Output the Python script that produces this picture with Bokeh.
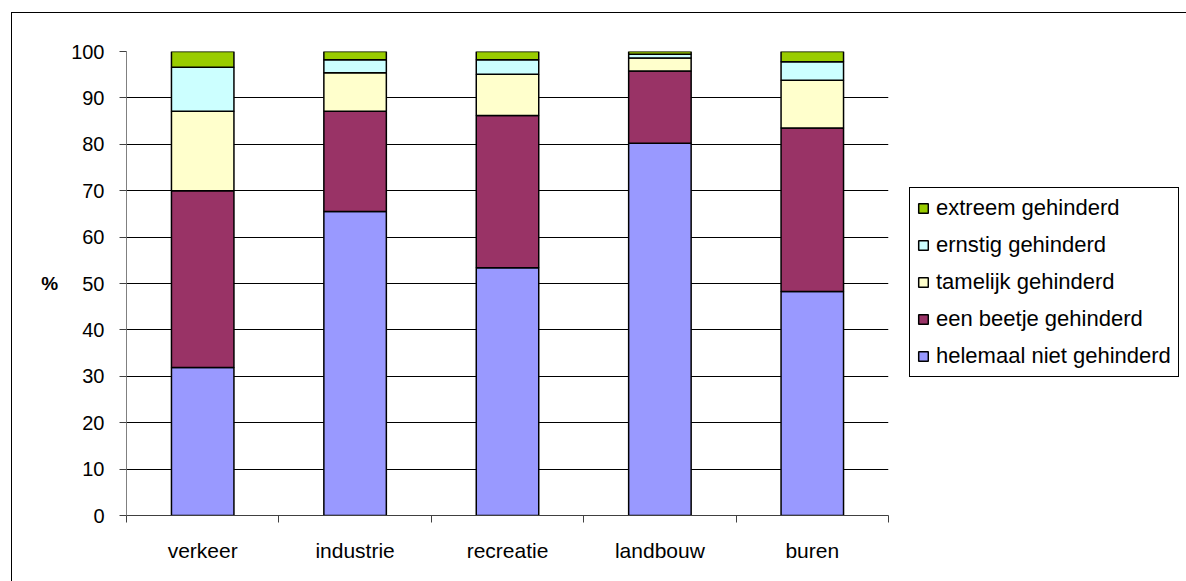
from bokeh.plotting import figure
from bokeh.models import (ColumnDataSource, Legend, LegendItem, FixedTicker, Grid, Range1d)
from bokeh.embed import file_html
from bokeh.resources import INLINE

categories = ["verkeer", "industrie", "recreatie", "landbouw", "buren"]
series_names = ["helemaal niet gehinderd", "een beetje gehinderd", "tamelijk gehinderd",
                "ernstig gehinderd", "extreem gehinderd"]
helemaal = [31.9, 65.5, 53.4, 80.2, 48.3]
beetje = [38.1, 21.6, 32.8, 15.6, 35.2]
tamelijk = [17.1, 8.3, 8.9, 2.8, 10.3]
ernstig = [9.5, 2.8, 3.1, 0.8, 4.0]
extreem = [3.4, 1.8, 1.8, 0.6, 2.2]
y_ticks = [0, 10, 20, 30, 40, 50, 60, 70, 80, 90, 100]
colors = ["#9999FF", "#993366", "#FFFFCC", "#CCFFFF", "#99CC00"]

keys = ["helemaal", "beetje", "tamelijk", "ernstig", "extreem"]
x_pos = [i + 0.5 for i in range(len(categories))]
src = ColumnDataSource(dict(x=x_pos, helemaal=helemaal, beetje=beetje,
                            tamelijk=tamelijk, ernstig=ernstig, extreem=extreem))

FONT = "Liberation Sans"

p = figure(output_backend="svg", toolbar_location=None,
           frame_width=762, frame_height=464,
           min_border_left=114, min_border_top=38, min_border_right=330, min_border_bottom=80,
           x_range=Range1d(0, len(categories)), y_range=Range1d(0, 100))
p.margin = (12, 0, 0, 11)
p.styles = {"border": "1px solid black"}
p.outline_line_color = None
p.background_fill_color = "white"
p.border_fill_color = "white"

renderers = p.vbar_stack(keys, x="x", width=0.41, source=src, color=colors,
                         line_color="black", line_width=1.5)

# grid
p.xgrid.grid_line_color = None
p.ygrid.ticker = FixedTicker(ticks=y_ticks[1:-1])
p.ygrid.grid_line_color = "black"
p.ygrid.grid_line_width = 1
p.add_layout(Grid(dimension=1, ticker=FixedTicker(ticks=[100]),
                  grid_line_color="#d0d0d0", grid_line_width=1), "center")

# y axis
p.yaxis.ticker = FixedTicker(ticks=y_ticks)
p.yaxis.axis_label = "%"
p.yaxis.axis_label_orientation = "horizontal"
p.yaxis.axis_label_text_font = FONT
p.yaxis.axis_label_text_font_style = "bold"
p.yaxis.axis_label_text_font_size = "19px"
p.yaxis.axis_label_text_color = "black"
p.yaxis.axis_label_standoff = 10
p.yaxis.axis_line_color = "#808080"
p.yaxis.major_tick_line_color = "#404040"
p.yaxis.major_tick_out = 7
p.yaxis.major_tick_in = 0
p.yaxis.minor_tick_line_color = None
p.yaxis.major_label_standoff = 15
p.yaxis.major_label_text_font = FONT
p.yaxis.major_label_text_font_size = "20px"
p.yaxis.major_label_text_color = "black"

# x axis: labels at centres, tick marks at category boundaries
p.xaxis.ticker = FixedTicker(ticks=x_pos, minor_ticks=list(range(len(categories) + 1)))
p.xaxis.major_label_overrides = {x: c for x, c in zip(x_pos, categories)}
p.xaxis.major_tick_line_color = None
p.xaxis.minor_tick_line_color = "#404040"
p.xaxis.minor_tick_out = 7
p.xaxis.minor_tick_in = 0
p.xaxis.axis_line_color = "#404040"
p.xaxis.major_label_standoff = 16
p.xaxis.major_label_text_font = FONT
p.xaxis.major_label_text_font_size = "21px"
p.xaxis.major_label_text_color = "black"

items = [LegendItem(label=n, renderers=[r]) for n, r in zip(series_names, renderers)]
legend = Legend(items=list(reversed(items)), location=(21, 138),
                border_line_color="black", border_line_width=1, border_line_alpha=1,
                background_fill_color="white", background_fill_alpha=1,
                label_text_font=FONT, label_text_font_size="22px", label_text_color="black",
                glyph_width=12, glyph_height=12, label_standoff=7,
                label_height=23, spacing=11, padding=7, margin=0)
p.add_layout(legend, "right")

open("out.html", "w").write(file_html(p, INLINE))
